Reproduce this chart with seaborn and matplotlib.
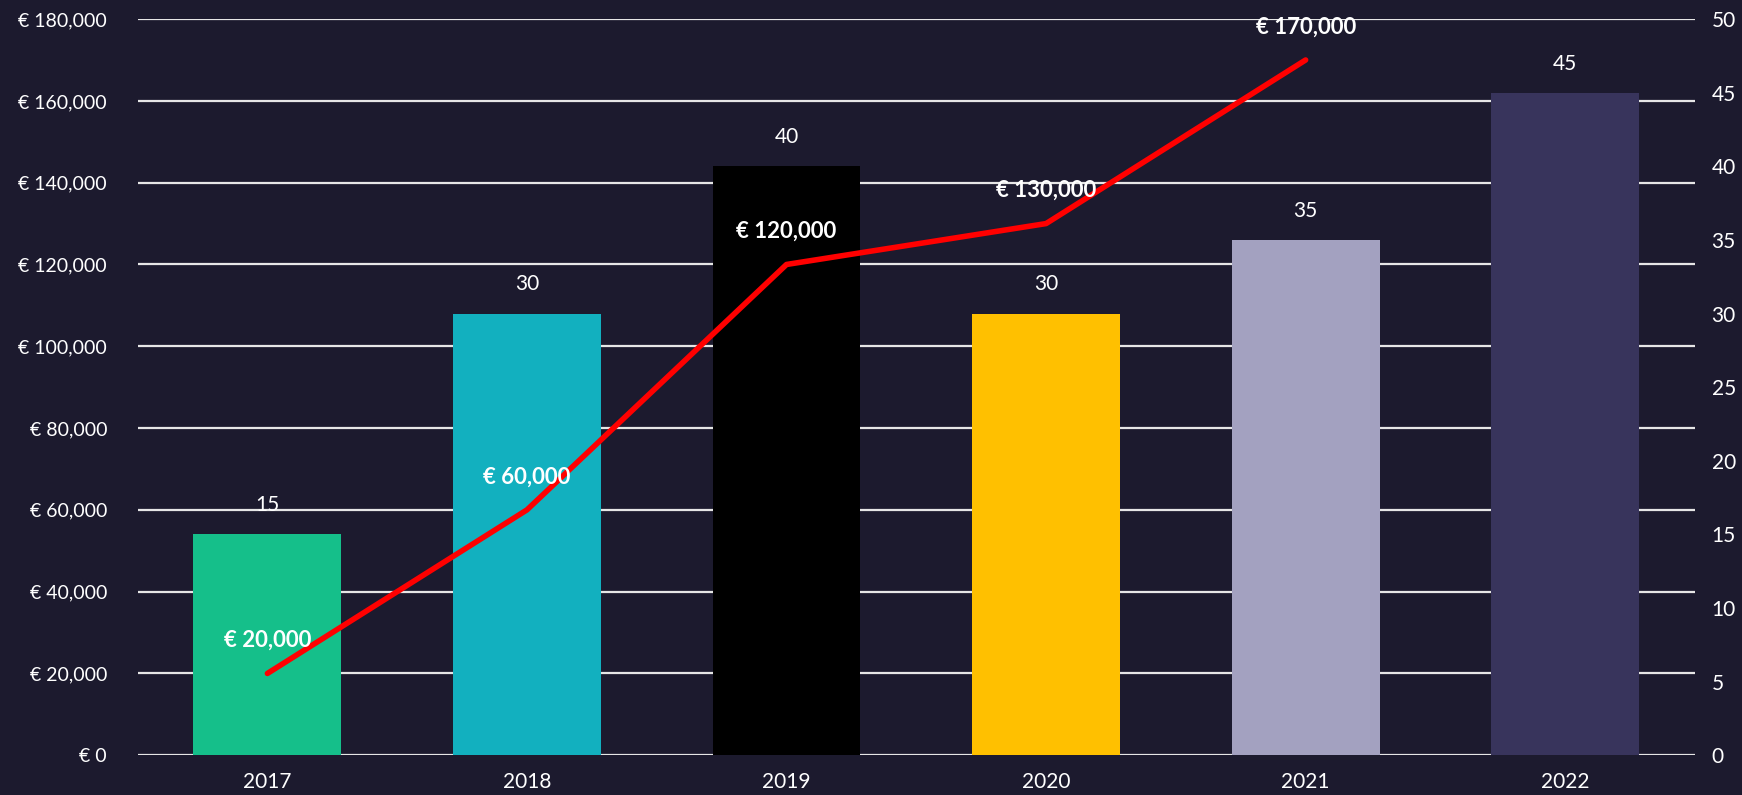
import matplotlib
matplotlib.use('Agg')
import matplotlib.pyplot as plt
import matplotlib.ticker as mticker
import seaborn as sns
import pandas as pd

# Data
years = ['2017', '2018', '2019', '2020', '2021', '2022']
counts = [15, 30, 40, 30, 35, 45]
line_years = ['2017', '2018', '2019', '2020', '2021']
revenue = [20000, 60000, 120000, 130000, 170000]
bar_colors = ['#15bf8a', '#12b0bf', '#000000', '#ffc000', '#a3a1c0', '#38345c']

bg = '#1c1a2e'

sns.set_theme(style='dark')
plt.rcParams['font.family'] = ['Lato', 'DejaVu Sans']

fig = plt.figure(figsize=(17.42, 7.95), dpi=100, facecolor=bg)
ax = fig.add_axes([0.079, 0.05, 0.894, 0.926])
ax.set_facecolor(bg)
ax2 = ax.twinx()

bar_df = pd.DataFrame({'year': years, 'count': counts})
line_df = pd.DataFrame({'year': line_years, 'revenue': revenue})

# bars on the right axis
sns.barplot(data=bar_df, x='year', y='count', hue='year', palette=bar_colors,
            width=0.57, ax=ax2, legend=False, saturation=1, zorder=2,
            edgecolor='none', linewidth=0)
ax2.set_ylim(0, 50)
ax2.set_yticks(range(0, 51, 5))
for p, v in zip(ax2.patches, counts):
    ax2.text(p.get_x() + p.get_width() / 2, v + 1.3, str(v), ha='center', va='bottom',
             color='white', fontsize=15)

# line on the left scale, drawn on a third axis so it sits above the bars
ax3 = ax.twinx()
ax3.set_ylim(0, 180000)
ax3.axis('off')
sns.lineplot(data=line_df, x='year', y='revenue', color='#ff0000', linewidth=4,
             ax=ax3, sort=False, solid_capstyle='round')
for i, v in enumerate(revenue):
    ax3.text(i, v + 5500, f'€ {v:,}', ha='center', va='bottom', color='white',
             fontsize=16, fontweight='bold')

ax.set_ylim(0, 180000)
ax.set_yticks(range(0, 180001, 20000))
ax.yaxis.set_major_formatter(mticker.FuncFormatter(lambda v, _: f'€ {int(v):,}'))
ax.set_xticks(range(len(years)))
ax.set_xticklabels(years)
ax.set_xlim(-0.5, len(years) - 0.5)
ax.grid(axis='y', color='#e6e6e6', linewidth=1.6)
ax.grid(axis='x', visible=False)
ax2.grid(False)
ax2.patch.set_visible(False)

for a in (ax, ax2):
    for s in a.spines.values():
        s.set_visible(False)
    a.set_xlabel('')
    a.set_ylabel('')
    a.tick_params(colors='white', labelsize=14, length=0)
ax.tick_params(axis='x', labelbottom=True, labelsize=15, pad=12)
ax.tick_params(axis='y', pad=22)
ax2.tick_params(axis='y', pad=12, labelsize=15)
ax3.set_xlabel('')
ax3.set_ylabel('')

fig.savefig('out.png', facecolor=bg)
